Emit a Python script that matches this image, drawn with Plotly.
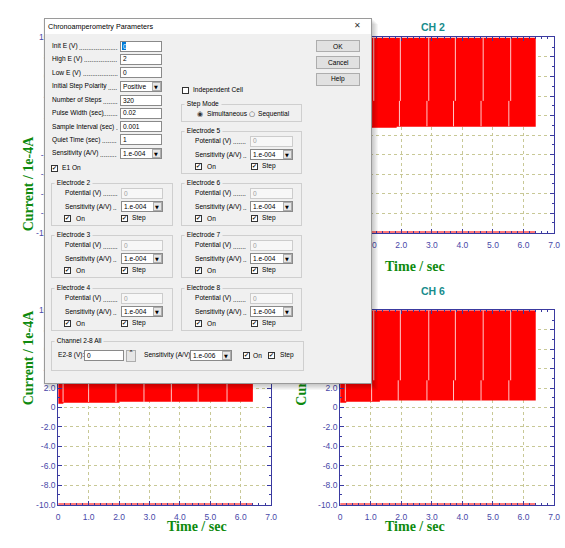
import plotly.graph_objects as go

W, H = 565, 548

# ---------------- chart data ----------------
x_tick_vals = [0, 1, 2, 3, 4, 5, 6, 7]
x_tick_text = ["0", "1.0", "2.0", "3.0", "4.0", "5.0", "6.0", "7.0"]
y_tick_vals = [-10, -8, -6, -4, -2, 0, 2, 4, 6, 8, 10]
y_tick_text = ["-10.0", "-8.0", "-6.0", "-4.0", "-2.0", "0", "2.0", "4.0", "6.0", "8.0", "10.0"]

channels = ["CH 1", "CH 2", "CH 5", "CH 6"]

# pulse-train envelope per channel: time (s), lower / upper edge (current, 1e-4 A)
ch1_t = [0.0, 1.85, 1.85, 6.4]
ch1_low = [0.75, 0.75, 0.85, 0.85]
ch1_top = [10.0, 10.0, 10.0, 10.0]
ch1_mid = 3.5
ch1_seams_hi = [1.10, 1.97, 2.90, 3.77, 4.68, 5.58]
ch1_seams_lo = [1.03, 1.94, 2.84, 3.71, 4.61, 5.52]

ch2_t = [0.0, 1.85, 1.85, 6.4]
ch2_low = [0.75, 0.75, 0.85, 0.85]
ch2_top = [10.0, 10.0, 10.0, 10.0]
ch2_mid = 3.5
ch2_seams_hi = [1.10, 1.97, 2.90, 3.77, 4.68, 5.58]
ch2_seams_lo = [1.03, 1.94, 2.84, 3.71, 4.61, 5.52]

ch5_t = [0.0, 0.17, 0.17, 2.0, 2.0, 6.4]
ch5_low = [0.4, 0.4, 0.5, 0.5, 0.6, 0.6]
ch5_top = [10.0, 10.0, 10.0, 10.0, 10.0, 10.0]
ch5_mid = 2.9
ch5_seams_hi = [1.08, 1.97, 2.90, 3.78, 4.68, 5.60]
ch5_seams_lo = [0.16, 1.00, 1.90, 2.82, 3.72, 4.60, 5.55]

ch6_t = [0.0, 0.2, 0.2, 1.3, 1.3, 6.4]
ch6_low = [0.5, 0.5, 0.6, 0.6, 0.72, 0.72]
ch6_top = [10.0, 10.0, 10.0, 10.0, 10.0, 10.0]
ch6_mid = 2.8
ch6_seams_hi = [1.10, 1.97, 2.90, 3.77, 4.68, 5.58]
ch6_seams_lo = [0.17, 1.03, 1.90, 2.84, 3.71, 4.61, 5.52]

# negative rail reached by every channel
floor_t = [0.0, 6.4]
floor_i = [-10.0, -10.0]

# dialog contents
param_labels = ["Init E (V)", "High E (V)", "Low E (V)", "Initial Step Polarity",
                "Number of Steps", "Pulse Width (sec)", "Sample Interval (sec)",
                "Quiet Time (sec)", "Sensitivity (A/V)"]
param_values = ["0", "2", "0", "Positive", "320", "0.02", "0.001", "1", "1.e-004"]
param_kinds = ["sel", "text", "text", "drop", "text", "text", "text", "text", "drop"]
electrodes_left = ["Electrode 2", "Electrode 3", "Electrode 4"]
electrodes_right = ["Electrode 6", "Electrode 7", "Electrode 8"]

# ---------------- styling ----------------
RED = "#ff0000"
SEAM = "rgba(255,200,200,1)"
FLOOR = "#ff4a4a"
AXIS = "#3a3aa0"
TICKCOL = "#4848a8"
GRID = "#c8c896"
TICKFONT = "Liberation Sans, Arial, sans-serif"
SERIF = "Liberation Serif, Times New Roman, serif"
UI = "Liberation Sans, Arial, sans-serif"
UIS = 6.6
BODY = "#f0f0f0"

# Arial advance widths (em) for estimating label lengths
_NARROW = {"i": 0.222, "l": 0.222, "j": 0.222, "t": 0.278, "f": 0.278, "r": 0.333,
           " ": 0.278, ".": 0.278, "(": 0.333, ")": 0.333, "/": 0.278, "I": 0.278,
           "A": 0.667, "V": 0.667, "E": 0.667, "P": 0.667, "S": 0.667, "N": 0.722,
           "H": 0.722, "L": 0.556, "Q": 0.778, "m": 0.833, "w": 0.722, "c": 0.5,
           "s": 0.5, "k": 0.5, "v": 0.5, "y": 0.5, "z": 0.5, "x": 0.5}


def text_width(s, size=UIS):
    return sum(_NARROW.get(ch, 0.556) for ch in s) * size


fig = go.Figure()

series = [
    (ch1_t, ch1_low, ch1_top, ch1_mid, ch1_seams_hi, ch1_seams_lo),
    (ch2_t, ch2_low, ch2_top, ch2_mid, ch2_seams_hi, ch2_seams_lo),
    (ch5_t, ch5_low, ch5_top, ch5_mid, ch5_seams_hi, ch5_seams_lo),
    (ch6_t, ch6_low, ch6_top, ch6_mid, ch6_seams_hi, ch6_seams_lo),
]
axes = [("x", "y"), ("x2", "y2"), ("x3", "y3"), ("x4", "y4")]

for (t, low, top, mid, s_hi, s_lo), (xa, ya) in zip(series, axes):
    fig.add_trace(go.Scatter(
        x=t + t[::-1], y=low + top[::-1], mode="lines", fill="toself",
        fillcolor=RED, line=dict(width=0, color=RED), xaxis=xa, yaxis=ya,
        hoverinfo="skip"))
    top_v = max(top)
    low_v = min(low)
    sx, sy = [], []
    for m in s_hi:
        sx += [m, m, None]
        sy += [mid, top_v, None]
    for m in s_lo:
        sx += [m, m, None]
        sy += [low_v + 0.15, mid, None]
    fig.add_trace(go.Scatter(x=sx, y=sy, mode="lines", line=dict(color=SEAM, width=1),
                             xaxis=xa, yaxis=ya, hoverinfo="skip"))
    fig.add_trace(go.Scatter(x=floor_t, y=floor_i, mode="lines",
                             line=dict(color=FLOOR, width=3), xaxis=xa, yaxis=ya,
                             hoverinfo="skip"))


def fx(x):
    return x / W


def fy(y):
    return 1 - y / H


col_dom = [[fx(57), fx(273)], [fx(343), fx(560)]]
row_dom = [[fy(232), fy(33)], [fy(509), fy(311)]]


def x_cfg(dom, anchor):
    return dict(domain=dom, anchor=anchor, range=[0, 7], tickmode="array",
                tickvals=x_tick_vals, ticktext=x_tick_text, ticks="inside", ticklen=4,
                tickcolor=AXIS, showline=True, linecolor=AXIS, linewidth=1,
                mirror="allticks", showgrid=True, gridcolor=GRID, griddash="dot",
                gridwidth=1, zeroline=False, ticklabelstandoff=4,
                tickfont=dict(family=TICKFONT, size=8.5, color=TICKCOL),
                minor=dict(tick0=0, dtick=0.2, ticks="inside", ticklen=2,
                           tickcolor=AXIS, showgrid=False),
                fixedrange=True)


def y_cfg(dom, anchor):
    return dict(domain=dom, anchor=anchor, range=[-10, 10], tickmode="array",
                tickvals=y_tick_vals, ticktext=y_tick_text, ticks="inside", ticklen=4,
                tickcolor=AXIS, showline=True, linecolor=AXIS, linewidth=1,
                mirror="allticks", showgrid=True, gridcolor=GRID, griddash="dot",
                gridwidth=1, zeroline=False,
                tickfont=dict(family=TICKFONT, size=8.5, color=TICKCOL),
                minor=dict(tick0=0, dtick=1, ticks="inside", ticklen=2,
                           tickcolor=AXIS, showgrid=False),
                fixedrange=True)


layout_axes = {}
cells = [(0, 0), (0, 1), (1, 0), (1, 1)]
for i, (r, c) in enumerate(cells):
    sfx = "" if i == 0 else str(i + 1)
    layout_axes["xaxis" + sfx] = x_cfg(col_dom[c], "y" + sfx)
    layout_axes["yaxis" + sfx] = y_cfg(row_dom[r], "x" + sfx)

ann = []

# panel titles and axis titles
title_pos = [(165, 12), (451, 14), (165, 291), (451, 291)]
xt_pos = [(165, 266), (451, 266), (165, 541), (451, 541)]
yt_pos = [(17, 132), (303, 132), (17, 410), (303, 410)]
for name, (tx, ty), (ax_, ay_), (bx, by) in zip(channels, title_pos, xt_pos, yt_pos):
    ann.append(dict(x=fx(tx), y=fy(ty), text="<b>%s</b>" % name,
                    font=dict(family=TICKFONT, size=10.5, color="#178c8c")))
    ann.append(dict(x=fx(ax_), y=fy(ay_), text="<b>Time / sec</b>",
                    font=dict(family=SERIF, size=14, color="#0e8a0e")))
    ann.append(dict(x=fx(bx), y=fy(by), text="<b>Current / 1e-4A</b>", textangle=-90,
                    font=dict(family=SERIF, size=14, color="#0e8a0e")))


# ---------------- parameter dialog (drawn in the annotation layer) ----------------
def rect(x0, y0, x1, y1, fill, line=None, lw=1):
    bw = lw if line else 0
    ann.append(dict(x=fx(x0), y=fy(y0), xanchor="left", yanchor="top", text=" ",
                    width=max(x1 - x0 - 2 * bw, 1), height=max(y1 - y0 - 2 * bw, 1),
                    bgcolor=fill, bordercolor=line or "rgba(0,0,0,0)", borderwidth=bw,
                    borderpad=0, font=dict(size=1)))


def text(x, y, s, size=UIS, color="#000000", anchor="left", bg=None, family=UI, pad=0):
    d = dict(x=fx(x), y=fy(y), xanchor=anchor, yanchor="middle", text=s,
             font=dict(family=family, size=size, color=color), borderpad=pad)
    if bg:
        d["bgcolor"] = bg
    ann.append(d)


def dotted_label(x, xr, y, s):
    # label followed by a dot leader that runs up to the field
    text(x, y, s)
    start = x + text_width(s + " ")
    n = max(int((xr - start) / (0.278 * UIS)) - 1, 1)
    text(start, y + 1, "." * n)


def field(x0, x1, y, value, disabled=False, selected=False):
    rect(x0, y - 5.5, x1, y + 5.5, "#f7f7f7" if disabled else "#ffffff",
         "#cccccc" if disabled else "#8a8a8a")
    if selected:
        rect(x0 + 1.5, y - 4, x0 + 5.5, y + 4, "#0078d7")
        text(x0 + 2, y, value, color="#ffffff")
    else:
        text(x0 + 2, y, value, color="#a0a0a0" if disabled else "#000000")


def dropdown(x0, x1, y, value):
    rect(x0, y - 5.5, x1, y + 5.5, "#ffffff", "#8a8a8a")
    rect(x1 - 10, y - 4.5, x1 - 1, y + 4.5, "#e6e6e6", "#adadad")
    text(x0 + 2, y, value)
    text(x1 - 5.5, y + 0.5, "▼", size=5, anchor="center", family="DejaVu Sans")


def checkbox(x, y, checked=True):
    rect(x, y - 3.5, x + 7, y + 3.5, "#ffffff", "#333333")
    if checked:
        text(x + 3.6, y, "✔", size=5.8, anchor="center", family="DejaVu Sans", color="#111111")


def groupbox(x0, y0, x1, y1, title):
    rect(x0, y0, x1, y1, "rgba(0,0,0,0)", "#cfcfcf")
    text(x0 + 3, y0, " " + title + " ", bg=BODY)


def button(x0, y0, x1, y1, label):
    rect(x0, y0, x1, y1, "#e1e1e1", "#adadad")
    text((x0 + x1) / 2, (y0 + y1) / 2, label, anchor="center")


# soft drop shadow
for k in range(1, 7):
    rect(43 - 2 + k, 13 + k, 371 + k, 379 + k, "rgba(0,0,0,0.035)")
rect(43, 13, 371, 379, BODY, "#9a9a9a")
rect(44, 14, 370, 29, "#ffffff")
text(46, 21.5, "Chronoamperometry Parameters", size=7.2)
text(361, 21, "✕", size=8, anchor="center", family="DejaVu Sans", color="#333333")

row_y = [42, 55, 69, 83, 97, 110, 124, 137, 151]
for lab, val, kind, y in zip(param_labels, param_values, param_kinds, row_y):
    dotted_label(50, 118, y, lab)
    if kind == "drop":
        dropdown(120, 162, y, val)
    else:
        field(120, 162, y, val, selected=(kind == "sel"))
checkbox(50, 166)
text(60, 166, "E1 On")

button(319, 36, 363, 48, "OK")
button(319, 52, 363, 65, "Cancel")
button(319, 69, 363, 82, "Help")

checkbox(183, 87, checked=False)
text(193, 87, "Independent Cell")

groupbox(182, 101, 303, 119, "Step Mode")
text(201, 111, "◉", size=7, anchor="center", family="DejaVu Sans", color="#333333")
text(207, 111, "Simultaneous")
text(254, 111, "○", size=7, anchor="center", family="DejaVu Sans", color="#333333")
text(259, 111, "Sequential")


def electrode(x0, x1, top, bottom, title, lab_x, fld_x0, fld_x1, on_x, step_x):
    groupbox(x0, top, x1, bottom, title)
    dotted_label(lab_x, fld_x0 - 3, top + 10.5, "Potential (V)")
    field(fld_x0, fld_x1, top + 10.5, "0", disabled=True)
    dotted_label(lab_x, fld_x0 - 3, top + 24.3, "Sensitivity (A/V)")
    dropdown(fld_x0, fld_x1, top + 24.3, "1.e-004")
    checkbox(on_x, top + 36.2)
    text(on_x + 11, top + 36.2, "On")
    checkbox(step_x, top + 36.2)
    text(step_x + 10, top + 36.2, "Step")


electrode(182, 303, 128, 171, "Electrode 5", 195, 252, 295, 196, 253)
for name, top in zip(electrodes_left, [181, 234, 288]):
    electrode(50, 172, top, top + 43, name, 63, 121, 163, 63, 121)
for name, top in zip(electrodes_right, [181, 234, 288]):
    electrode(182, 303, top, top + 43, name, 195, 252, 295, 196, 253)

groupbox(50, 342, 303, 372, "Channel 2-8 All")
text(56, 357, "E2-8 (V):")
field(83, 123, 357, "0")
rect(126, 351, 136, 363, "#e6e6e6", "#adadad")
text(131, 356, "˄", size=8, anchor="center", family="DejaVu Sans")
text(143, 357, "Sensitivity (A/V):")
dropdown(191, 233, 357, "1.e-006")
checkbox(244, 357)
text(254, 357, "On")
checkbox(270, 357)
text(281, 357, "Step")

for a in ann:
    a.setdefault("xref", "paper")
    a.setdefault("yref", "paper")
    a.setdefault("showarrow", False)

fig.update_layout(
    width=W, height=H, margin=dict(l=0, r=0, t=0, b=0),
    paper_bgcolor="#ffffff", plot_bgcolor="#ffffff", showlegend=False,
    annotations=ann, **layout_axes)

fig.write_html("out.html")
